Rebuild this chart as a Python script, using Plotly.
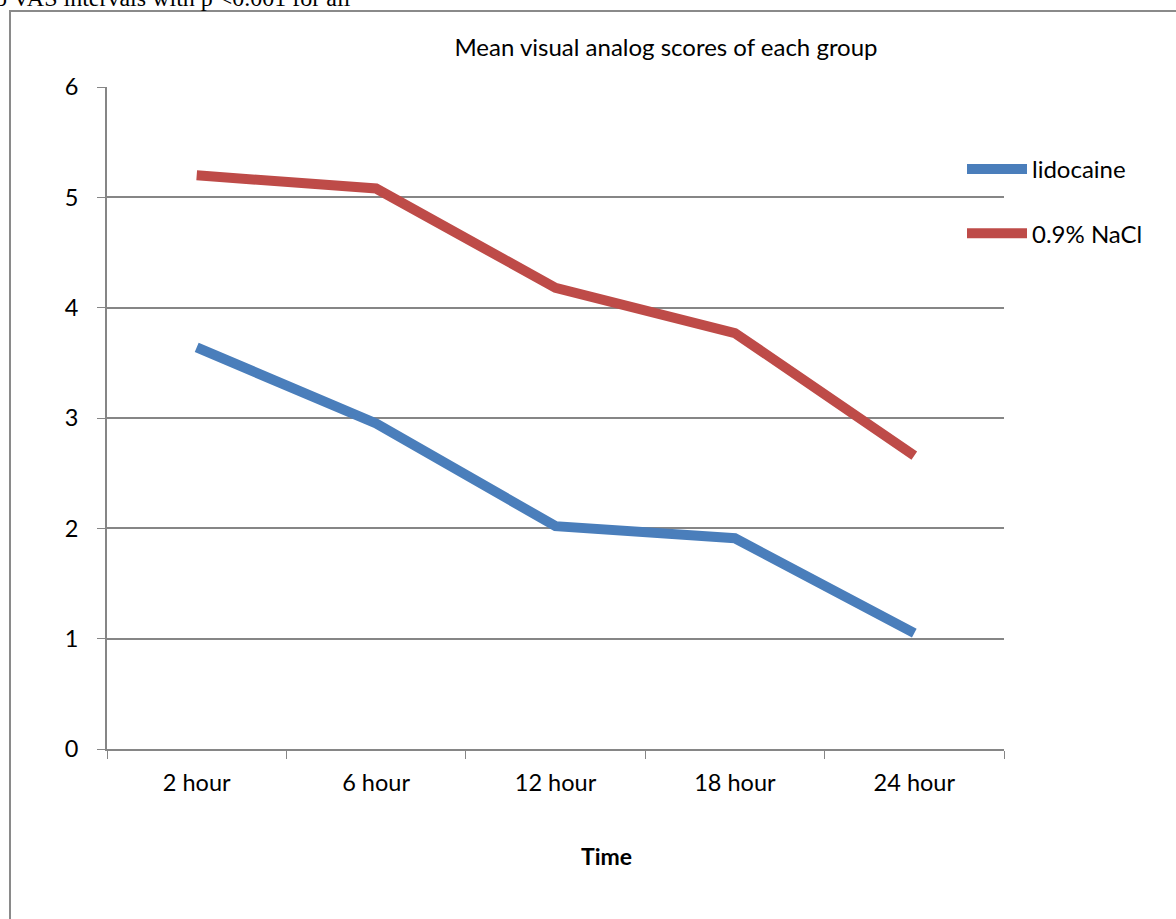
import plotly.graph_objects as go

categories = ["2 hour", "6 hour", "12 hour", "18 hour", "24 hour"]
lidocaine = [3.64, 2.95, 2.02, 1.91, 1.05]
nacl = [5.20, 5.08, 4.18, 3.77, 2.66]
series_names = ["lidocaine", "0.9% NaCl"]
y_ticks = [0, 1, 2, 3, 4, 5, 6]

W, H = 1176, 919
L, R, T, B = 107, 1004, 87, 749
pw, ph = R - L, B - T

def px(x):
    return (x - L) / pw

def py(y):
    return (B - y) / ph

fig = go.Figure()
fig.add_trace(go.Scatter(x=categories, y=lidocaine, name=series_names[0], mode="lines",
                         line=dict(color="#4A7EBB", width=10), legendgroup="a"))
fig.add_trace(go.Scatter(x=categories, y=nacl, name=series_names[1], mode="lines",
                         line=dict(color="#BE4B48", width=10), legendgroup="b"))

font = "Lato, 'Open Sans', sans-serif"
fig.update_layout(
    width=W, height=H,
    margin=dict(l=L, r=W - R, t=T, b=H - B),
    paper_bgcolor="white", plot_bgcolor="white",
    font=dict(family=font, size=23, color="black"),
    title=dict(text="Mean visual analog scores of each group", xref="paper", x=px(666),
               xanchor="center", yref="container", y=1 - 48 / H, yanchor="middle",
               font=dict(size=24, family=font)),
    showlegend=True,
    legend=dict(x=px(962), xanchor="left", y=py(147), yanchor="top",
                font=dict(size=24, family=font), tracegroupgap=30,
                itemwidth=60, bgcolor="rgba(0,0,0,0)"),
    xaxis=dict(type="category", tickson="boundaries", ticks="outside", ticklen=8,
               tickcolor="#868686", showline=True, linecolor="#868686", linewidth=2,
               showgrid=False, tickfont=dict(size=23.5), range=[-0.5, 4.5],
               ticklabelstandoff=12),
    yaxis=dict(range=[0, 6], tickvals=y_ticks, ticks="outside", ticklen=8,
               tickcolor="#868686", showline=True, linecolor="#868686", linewidth=2,
               showgrid=True, gridcolor="#868686", gridwidth=1.5, zeroline=False,
               tickfont=dict(size=23.5), ticklabelstandoff=14),
)

fig.add_annotation(text="<b>Time</b>", xref="paper", yref="paper", x=px(606), y=py(856),
                   xanchor="center", yanchor="middle", showarrow=False,
                   font=dict(size=23, family=font, color="black"))

fig.add_shape(type="rect", xref="paper", yref="paper",
              x0=px(10), x1=px(1200), y0=py(960), y1=py(11),
              line=dict(color="#8a8a8a", width=2), fillcolor="rgba(0,0,0,0)")

fig.add_annotation(text="o VAS intervals with p <0.001 for all", xref="paper", yref="paper",
                   x=px(-7), xanchor="left", y=py(13), yanchor="bottom", showarrow=False,
                   font=dict(family="Liberation Serif, serif", size=24, color="black"))

fig.write_html("out.html", config={"displayModeBar": False},
               post_script="document.body.style.margin='0';")
